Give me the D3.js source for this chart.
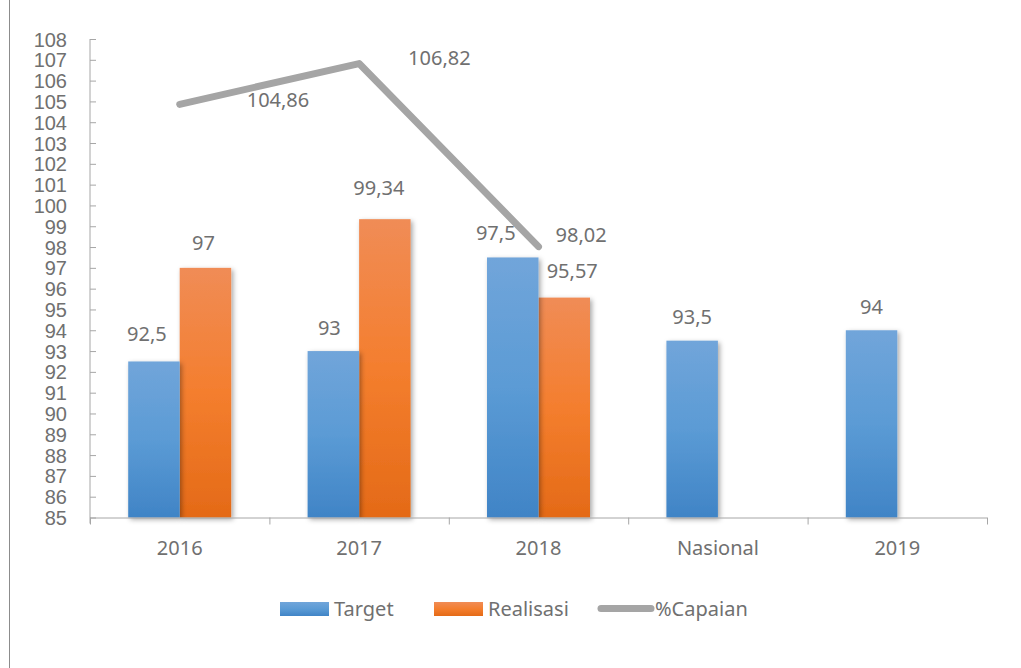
<!DOCTYPE html>
<html><head><meta charset="utf-8">
<script src="https://cdn.jsdelivr.net/npm/d3@7"></script>
<style>
html,body{margin:0;padding:0;background:#fff;}
svg{display:block;font-family:"Segoe UI","Noto Sans","Open Sans",sans-serif;}
</style></head>
<body>
<svg id="c" width="1021" height="668"></svg>
<script>
// ---- data ----
const categories = ["2016","2017","2018","Nasional","2019"];
const target = [92.5, 93, 97.5, 93.5, 94];
const realisasi = [97, 99.34, 95.57, null, null];
const capaian = [104.86, 106.82, 98.02, null, null];
const yTicks = d3.range(85, 109, 1);
const seriesNames = ["Target","Realisasi","%Capaian"];
const fmt = v => String(v).replace(".", ",");

// ---- label layout adjustments (manual label positions in original) ----
const targetLabelDx = [-7, -4, -17, 0, 0];
const targetLabelGap = [20, 16, 17, 17, 16];
const realLabelDx = [-2, -6, 8];
const realLabelGap = [18, 24, 20];
const capLabelDx = [67, 49, 17];
const capLabelDy = [3, 1, -5];

const svg = d3.select("#c");
const textCol = "#707070", axisCol = "#a6a6a6";
const mLeft = 90, mRight = 987, mTop = 39, mBottom = 517.5;

// outer frame line
svg.append("line").attr("x1",9.5).attr("x2",9.5).attr("y1",0).attr("y2",668)
  .attr("stroke","#8c8c8c").attr("stroke-width",1);

const defs = svg.append("defs");
function grad(id, c0, c1, c2){
  const g = defs.append("linearGradient").attr("id",id).attr("x1",0).attr("y1",0).attr("x2",0).attr("y2",1);
  g.append("stop").attr("offset","0%").attr("stop-color",c0);
  g.append("stop").attr("offset","50%").attr("stop-color",c1);
  g.append("stop").attr("offset","100%").attr("stop-color",c2);
}
grad("gBlue","#71a5da","#5b9bd5","#4084c6");
grad("gOrange","#f08c56","#f47e2e","#e46a17");
const f = defs.append("filter").attr("id","sh").attr("x","-20%").attr("y","-20%").attr("width","150%").attr("height","150%");
f.append("feDropShadow").attr("dx",2).attr("dy",2).attr("stdDeviation",2.5).attr("flood-color","#000").attr("flood-opacity",0.35);

const x0 = d3.scaleBand().domain(categories).range([mLeft, mRight]).padding(0);
const x1 = d3.scaleBand().domain(["Target","Realisasi"]).range([0, x0.bandwidth()]).paddingInner(0).paddingOuter(0.742);
const y = d3.scaleLinear().domain([85,108]).range([mBottom, mTop]);

// bars
const g = svg.append("g");
categories.forEach((c,i)=>{
  if (realisasi[i] != null) {
    g.append("rect").attr("x", x0(c)+x1("Realisasi")).attr("y", y(realisasi[i]))
      .attr("width", x1.bandwidth()).attr("height", y(85)-y(realisasi[i]))
      .attr("fill","url(#gOrange)").attr("filter","url(#sh)");
  }
  g.append("rect").attr("x", x0(c)+x1("Target")).attr("y", y(target[i]))
    .attr("width", x1.bandwidth()).attr("height", y(85)-y(target[i]))
    .attr("fill","url(#gBlue)").attr("filter","url(#sh)");
});

// y axis
const yAxis = svg.append("g").attr("transform",`translate(${mLeft},0)`)
  .call(d3.axisLeft(y).tickValues(yTicks).tickSize(-6).tickPadding(23).tickFormat(d=>d));
yAxis.select(".domain").remove();
yAxis.append("line").attr("x1",0).attr("x2",0).attr("y1",mTop).attr("y2",mBottom+6).attr("stroke",axisCol);
yAxis.selectAll(".tick line").attr("stroke",axisCol);
yAxis.selectAll(".tick text").attr("fill",textCol).style("font-size","20px").attr("dy","0.35em");

// x axis
const xg = svg.append("g");
xg.append("line").attr("x1",mLeft).attr("x2",mRight).attr("y1",mBottom+0.5).attr("y2",mBottom+0.5).attr("stroke",axisCol);
const bounds = categories.map(c=>x0(c)).concat([mRight]);
bounds.forEach(b=>{
  xg.append("line").attr("x1",b+0.5).attr("x2",b+0.5).attr("y1",mBottom).attr("y2",mBottom+7).attr("stroke",axisCol);
});
categories.forEach(c=>{
  xg.append("text").attr("x", x0(c)+x0.bandwidth()/2).attr("y", 555)
    .attr("text-anchor","middle").attr("fill",textCol).style("font-size","20px").text(c);
});

// line
const pts = capaian.map((v,i)=>v==null?null:[x0(categories[i])+x0.bandwidth()/2, y(v)]).filter(p=>p);
svg.append("path").attr("d", d3.line()(pts)).attr("fill","none")
  .attr("stroke","#a5a5a5").attr("stroke-width",7).attr("stroke-linecap","round").attr("stroke-linejoin","round");

// labels
const lab = svg.append("g").attr("fill",textCol).style("font-size","20px");
categories.forEach((c,i)=>{
  const xc = x0(c)+x1("Target")+x1.bandwidth()/2;
  lab.append("text").attr("x", xc+targetLabelDx[i]).attr("y", y(target[i])-targetLabelGap[i])
    .attr("text-anchor","middle").text(fmt(target[i]));
  if (realisasi[i]!=null){
    const xr = x0(c)+x1("Realisasi")+x1.bandwidth()/2;
    lab.append("text").attr("x", xr+realLabelDx[i]).attr("y", y(realisasi[i])-realLabelGap[i])
      .attr("text-anchor","middle").text(fmt(realisasi[i]));
  }
  if (capaian[i]!=null){
    const xp = x0(c)+x0.bandwidth()/2;
    lab.append("text").attr("x", xp+capLabelDx[i]).attr("y", y(capaian[i])+capLabelDy[i])
      .attr("text-anchor","start").text(fmt(capaian[i]));
  }
});

// legend
const lg = svg.append("g").style("font-size","20px").attr("fill",textCol);
lg.append("rect").attr("x",280).attr("y",602).attr("width",49).attr("height",14).attr("fill","url(#gBlue)");
lg.append("text").attr("x",334).attr("y",616).text(seriesNames[0]);
lg.append("rect").attr("x",434).attr("y",602).attr("width",49).attr("height",14).attr("fill","url(#gOrange)");
lg.append("text").attr("x",488).attr("y",616).text(seriesNames[1]);
lg.append("line").attr("x1",601).attr("x2",651).attr("y1",608.5).attr("y2",608.5)
  .attr("stroke","#a5a5a5").attr("stroke-width",7).attr("stroke-linecap","round");
lg.append("text").attr("x",655).attr("y",616).text(seriesNames[2]);
</script>
</body></html>
